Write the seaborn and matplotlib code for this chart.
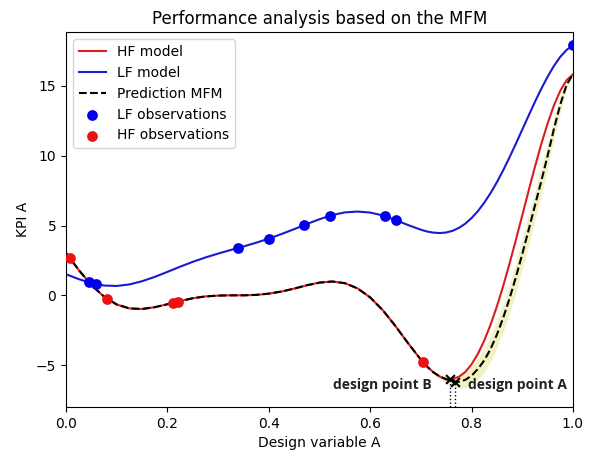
import matplotlib
matplotlib.use("Agg")
import matplotlib.pyplot as plt
import seaborn as sns
import numpy as np

# curves (step 0.025, finer past 0.7)
x_grid = [0.0, 0.025, 0.05, 0.075, 0.1, 0.125, 0.15, 0.175, 0.2, 0.225,
          0.25, 0.275, 0.3, 0.325, 0.35, 0.375, 0.4, 0.425, 0.45, 0.475,
          0.5, 0.525, 0.55, 0.575, 0.6, 0.625, 0.65, 0.675, 0.7,
          0.7125, 0.725, 0.7375, 0.75, 0.7625, 0.775, 0.7875, 0.8,
          0.8125, 0.825, 0.8375, 0.85, 0.8625, 0.875, 0.8875, 0.9,
          0.9125, 0.925, 0.9375, 0.95, 0.9625, 0.975, 0.9875, 1.0]
hf_y = [3.03, 1.81, 0.74, -0.10, -0.66, -0.94, -0.98, -0.85, -0.64, -0.41,
        -0.21, -0.08, -0.02, 0.0, 0.0, 0.03, 0.12, 0.27, 0.48, 0.72,
        0.91, 0.99, 0.87, 0.50, -0.15, -1.07, -2.21, -3.44, -4.61,
        -5.11, -5.52, -5.83, -5.99, -6.01, -5.84, -5.50, -4.95,
        -4.20, -3.25, -2.11, -0.80, 0.67, 2.27, 3.97, 5.71,
        7.47, 9.19, 10.82, 12.30, 13.60, 14.65, 15.41, 15.83]
lf_y = [1.51, 1.16, 0.87, 0.70, 0.67, 0.78, 1.01, 1.32, 1.68, 2.05,
        2.40, 2.71, 2.99, 3.25, 3.50, 3.77, 4.06, 4.39, 4.74, 5.11,
        5.45, 5.75, 5.94, 6.00, 5.93, 5.72, 5.40, 5.03, 4.70,
        4.57, 4.49, 4.46, 4.50, 4.62, 4.83, 5.13, 5.53,
        6.03, 6.63, 7.32, 8.10, 8.96, 9.89, 10.86, 11.86,
        12.86, 13.85, 14.79, 15.65, 16.43, 17.08, 17.58, 17.92]
mfm_y = [3.03, 1.81, 0.74, -0.10, -0.66, -0.94, -0.98, -0.85, -0.64, -0.41,
         -0.21, -0.08, -0.02, 0.0, 0.0, 0.03, 0.12, 0.27, 0.48, 0.72,
         0.91, 0.99, 0.87, 0.50, -0.15, -1.07, -2.21, -3.44, -4.61,
         -5.11, -5.52, -5.82, -6.02, -6.16, -6.20, -6.06, -5.76,
         -5.28, -4.67, -3.85, -2.82, -1.61, -0.23, 1.30, 2.94,
         4.66, 6.42, 8.16, 9.98, 11.91, 13.65, 15.08, 15.83]
mfm_sd = [0.0] * 29 + [0.02, 0.05, 0.15, 0.25, 0.35, 0.45, 0.55, 0.65,
                       0.75, 0.85, 0.9, 0.95, 1.0, 1.05, 1.1, 1.1,
                       1.1, 1.05, 1.0, 0.9, 0.75, 0.55, 0.3, 0.0]

lf_obs_x = [0.045, 0.06, 0.34, 0.40, 0.47, 0.52, 0.63, 0.65, 1.0]
lf_obs_y = [0.92, 0.79, 3.40, 4.06, 5.04, 5.69, 5.66, 5.40, 17.92]
hf_obs_x = [0.008, 0.08, 0.21, 0.22, 0.704]
hf_obs_y = [2.64, -0.23, -0.55, -0.45, -4.77]

design_x = [0.757, 0.768]
design_y = [-6.02, -6.2]
design_lbl = ["design point B", "design point A"]

fig = plt.figure(figsize=(5.9, 4.51), dpi=100)
ax = fig.add_axes([0.112, 0.0976, 0.859, 0.831])

lo = np.array(mfm_y) - np.array(mfm_sd)
hi = np.array(mfm_y) + np.array(mfm_sd)
ax.fill_between(x_grid, lo, hi, color="#e2e27a", alpha=0.45, linewidth=0)

sns.lineplot(x=x_grid, y=hf_y, color="#dd1c1c", linewidth=1.5, label="HF model", ax=ax)
sns.lineplot(x=x_grid, y=lf_y, color="#1a1ad0", linewidth=1.5, label="LF model", ax=ax)
sns.lineplot(x=x_grid, y=mfm_y, color="black", linewidth=1.5, linestyle="--",
             label="Prediction MFM", ax=ax)
sns.scatterplot(x=lf_obs_x, y=lf_obs_y, color="#0000ee", s=60, linewidth=0,
                label="LF observations", ax=ax, zorder=3)
sns.scatterplot(x=hf_obs_x, y=hf_obs_y, color="#ee1111", s=60, linewidth=0,
                label="HF observations", ax=ax, zorder=3)

ymin = -8.0
for xd, yd in zip(design_x, design_y):
    ax.plot([xd, xd], [ymin, yd], color="black", linestyle=":", linewidth=1)
ax.scatter(design_x, design_y, marker="x", color="black", s=40, zorder=4)
ax.annotate(design_lbl[0], (design_x[0], design_y[0]), xytext=(-13, -4),
            textcoords="offset points", ha="right", va="center",
            fontsize=10, fontweight="bold", family="Open Sans", color="#222222")
ax.annotate(design_lbl[1], (design_x[1], design_y[1]), xytext=(9, -2),
            textcoords="offset points", ha="left", va="center",
            fontsize=10, fontweight="bold", family="Open Sans", color="#222222")

ax.set_xlim(0, 1)
ax.set_ylim(ymin, 18.85)
ax.set_title("Performance analysis based on the MFM")
ax.set_xlabel("Design variable A")
ax.set_ylabel("KPI A")
ax.legend(loc="upper left")

fig.savefig("out.png", dpi=100)
